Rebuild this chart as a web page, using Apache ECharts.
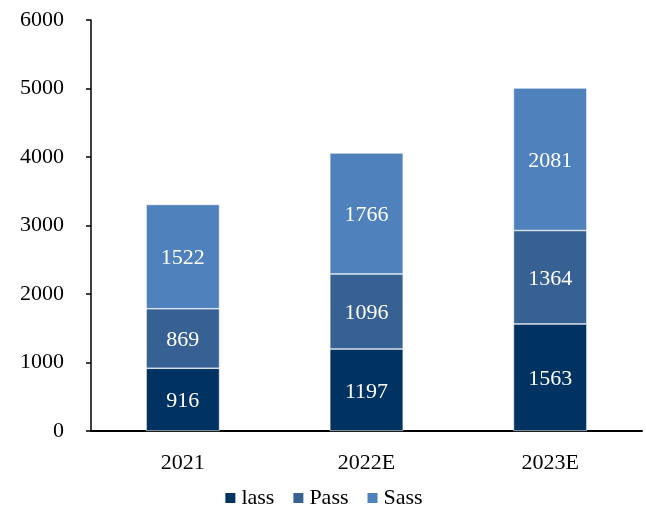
<!DOCTYPE html>
<html>
<head>
<meta charset="utf-8">
<script src="https://cdn.jsdelivr.net/npm/echarts@6/dist/echarts.min.js"></script>
<style>
html,body{margin:0;padding:0;background:#fff;}
#chart{width:646px;height:510px;}
</style>
</head>
<body>
<div id="chart"></div>
<script>
// Categories and stacked series values
const categories = ['2021', '2022E', '2023E'];
const seriesNames = ['lass', 'Pass', 'Sass'];
const iaasValues = [916, 1197, 1563];
const paasValues = [869, 1096, 1364];
const saasValues = [1522, 1766, 2081];
const yTicks = [0, 1000, 2000, 3000, 4000, 5000, 6000];

const colors = ['#003362', '#376193', '#4f81bd'];
const fontFamily = '"Liberation Serif", "Times New Roman", serif';
const fontSize = 22;

const chart = echarts.init(document.getElementById('chart'), null, {renderer: 'canvas'});

function barSeries(name, data, color) {
  return {
    name: name,
    type: 'bar',
    stack: 'total',
    data: data,
    barWidth: '40%',
    itemStyle: {color: color, borderColor: '#ffffff', borderWidth: 0.6},
    label: {
      show: true,
      position: 'inside',
      color: '#ffffff',
      fontFamily: fontFamily,
      fontSize: fontSize,
      offset: [0, 2]
    }
  };
}

chart.setOption({
  backgroundColor: '#ffffff',
  animation: false,
  textStyle: {fontFamily: fontFamily},
  grid: {left: 91, right: 4, top: 20, bottom: 79},
  legend: {
    top: 487,
    left: 'center',
    padding: [0, 0, 0, 8],
    itemWidth: 12,
    itemHeight: 12,
    itemGap: 17,
    icon: 'rect',
    textStyle: {fontFamily: fontFamily, fontSize: fontSize, color: '#000'},
    data: seriesNames
  },
  xAxis: {
    type: 'category',
    data: categories,
    axisLine: {lineStyle: {color: '#000', width: 2}},
    axisTick: {show: false},
    axisLabel: {color: '#000', fontSize: fontSize, fontFamily: fontFamily, margin: 21}
  },
  yAxis: {
    type: 'value',
    min: yTicks[0],
    max: yTicks[yTicks.length - 1],
    interval: 1000,
    axisLine: {show: true, lineStyle: {color: '#000', width: 1.5}},
    axisTick: {show: true, length: 5, lineStyle: {color: '#000', width: 1.5}},
    splitLine: {show: false},
    axisLabel: {
      color: '#000', fontSize: fontSize, fontFamily: fontFamily, margin: 27,
      formatter: function (v) { return String(v); }
    }
  },
  series: [
    barSeries(seriesNames[0], iaasValues, colors[0]),
    barSeries(seriesNames[1], paasValues, colors[1]),
    barSeries(seriesNames[2], saasValues, colors[2])
  ]
});
</script>
</body>
</html>
